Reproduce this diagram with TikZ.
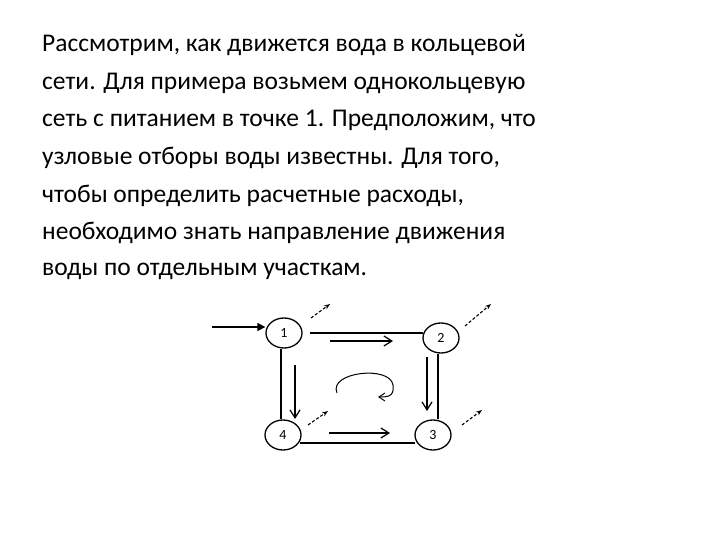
\documentclass[tikz,border=0pt]{standalone}
\usepackage{fontspec}
\setmainfont{Carlito}
\usetikzlibrary{arrows.meta,shapes.geometric}
\begin{document}
\begin{tikzpicture}[x=1pt,y=-1pt,
  txt/.style={anchor=west,inner sep=0pt,font=\fontsize{25.5}{30}\selectfont},
  nd/.style={draw,ellipse,line width=1.3pt,minimum width=36pt,minimum height=30pt,inner sep=0pt,font=\fontsize{14}{16}\selectfont},
  pipe/.style={line width=1.2pt},
  flow/.style={line width=1.2pt,-{Straight Barb[length=8pt,width=10pt]}},
  outflow/.style={line width=1.1pt,densely dashed,-{Stealth[length=6pt]}}]
\useasboundingbox (0,0) rectangle (720,540);
\node[txt] (l1) at (42,45) {Рассмотрим, как движется вода в кольцевой};
\node[txt] (l2) at (42,83) {сети. Для примера возьмем однокольцевую};
\node[txt] (l3) at (42,120) {сеть с питанием в точке 1. Предположим, что};
\node[txt] (l4) at (42,158) {узловые отборы воды известны. Для того,};
\node[txt] (l5) at (42,196) {чтобы определить расчетные расходы,};
\node[txt] (l6) at (42,233) {необходимо знать направление движения};
\node[txt] (l7) at (42,271) {воды по отдельным участкам.};
\node[nd] (n1) at (284,333) {1};
\node[nd] (n2) at (441,338) {2};
\node[nd] (n3) at (433,435) {3};
\node[nd] (n4) at (283,435) {4};
\coordinate (in) at (212,327);
\draw[line width=1.2pt,-{Triangle[length=8pt,width=8pt]}] (in) -- (n1.west|-in);
\coordinate (p1a) at (310,333); \coordinate (p1b) at (423,333);
\draw[pipe] (p1a) -- (p1b);
\draw[pipe] (n1.south-|281,0) -- (n4.north-|281,0);
\draw[pipe] (n2.south-|438,0) -- (n3.north-|438,0);
\coordinate (p4a) at (300,443); \coordinate (p4b) at (415,443);
\draw[pipe] (p4a) -- (p4b);
\coordinate (f1a) at (330,341); \coordinate (f1b) at (393,341);
\draw[flow] (f1a) -- (f1b);
\coordinate (f2a) at (295,365); \coordinate (f2b) at (295,419);
\draw[flow] (f2a) -- (f2b);
\coordinate (f3a) at (427,357); \coordinate (f3b) at (427,411);
\draw[flow] (f3a) -- (f3b);
\coordinate (f4a) at (329,433); \coordinate (f4b) at (390,433);
\draw[flow] (f4a) -- (f4b);
\coordinate (o1a) at (311,318); \coordinate (o1b) at (330,304);
\draw[outflow] (o1a) -- (o1b);
\coordinate (o2a) at (465,326); \coordinate (o2b) at (491,304);
\draw[outflow] (o2a) -- (o2b);
\coordinate (o3a) at (462,425); \coordinate (o3b) at (482,410);
\draw[outflow] (o3a) -- (o3b);
\coordinate (o4a) at (308,425); \coordinate (o4b) at (328,411);
\draw[outflow] (o4a) -- (o4b);
\coordinate (c1) at (337,393);
\coordinate (c2) at (378,397);
\draw[line width=1pt,-{Straight Barb[length=6pt,width=8pt]}] (c1) .. controls (328,372) and (390,365) .. (393,385) .. controls (395,398) and (385,397) .. (c2);
\end{tikzpicture}
\end{document}
